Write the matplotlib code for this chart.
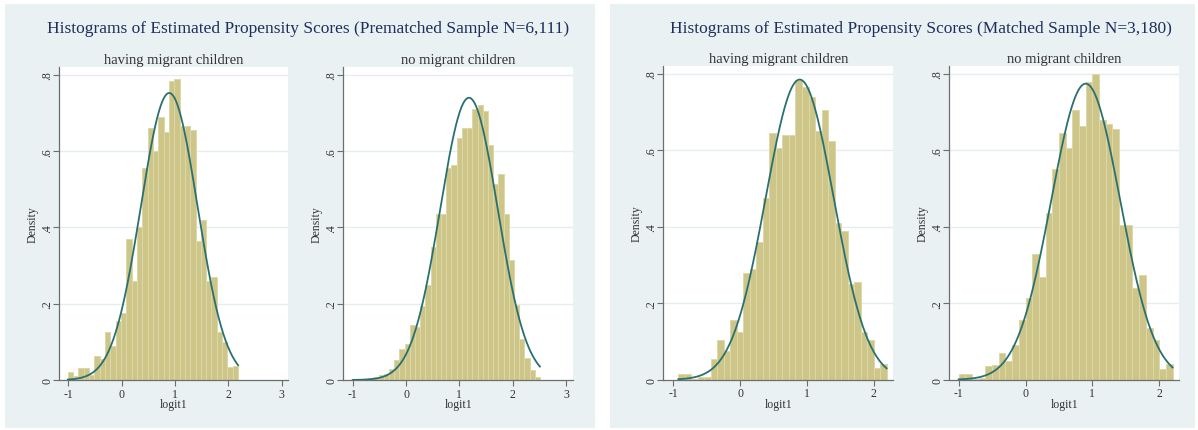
import numpy as np
import matplotlib
matplotlib.use("Agg")
import matplotlib.pyplot as plt
from matplotlib.patches import Rectangle

plt.rcParams['font.family'] = ['Liberation Serif', 'DejaVu Serif']

# ---------------- data ----------------
panel_titles = ["Histograms of Estimated Propensity Scores (Prematched Sample N=6,111)",
                "Histograms of Estimated Propensity Scores (Matched Sample N=3,180)"]
group_titles = ["having migrant children", "no migrant children"]

# histogram bin range (start, end) and densities per subplot
pre_mig_range = (-1.01, 2.18)
pre_mig_density = [0.02, 0.01, 0.032, 0.032, 0.012, 0.063, 0.055, 0.126, 0.09, 0.155,
                   0.175, 0.37, 0.26, 0.40, 0.555, 0.66, 0.60, 0.69, 0.65, 0.785,
                   0.79, 0.665, 0.665, 0.655, 0.365, 0.42, 0.26, 0.27, 0.125, 0.10,
                   0.033, 0.037]
pre_non_range = (-1.0, 2.51)
pre_non_density = [0.003, 0.003, 0.003, 0.004, 0.008, 0.013, 0.017, 0.028, 0.053, 0.08,
                   0.095, 0.145, 0.14, 0.195, 0.25, 0.35, 0.435, 0.435, 0.555, 0.565,
                   0.635, 0.66, 0.66, 0.71, 0.72, 0.705, 0.615, 0.515, 0.54, 0.435,
                   0.315, 0.197, 0.108, 0.057, 0.026, 0.007]
mat_mig_range = (-0.925, 2.19)
mat_mig_density = [0.015, 0.015, 0.003, 0.008, 0.008, 0.055, 0.105, 0.075, 0.155, 0.125,
                   0.28, 0.29, 0.36, 0.475, 0.645, 0.605, 0.64, 0.64, 0.785, 0.765,
                   0.74, 0.65, 0.705, 0.625, 0.41, 0.39, 0.25, 0.255, 0.125, 0.105,
                   0.03, 0.04]
mat_non_range = (-1.0, 2.2)
mat_non_density = [0.015, 0.015, 0.003, 0.005, 0.035, 0.038, 0.07, 0.05, 0.09, 0.155,
                   0.215, 0.33, 0.27, 0.435, 0.55, 0.645, 0.605, 0.705, 0.665, 0.78,
                   0.80, 0.68, 0.67, 0.655, 0.405, 0.405, 0.24, 0.275, 0.135, 0.105,
                   0.028, 0.04]

# normal density overlay: mean, sd
normal_mean = [0.89, 1.18, 0.89, 0.90]
normal_sd = [0.53, 0.539, 0.508, 0.515]

y_ticks = [0, 0.2, 0.4, 0.6, 0.8]
y_ticklabels = ["0", ".2", ".4", ".6", ".8"]
x_ticks_pre = [-1, 0, 1, 2, 3]
x_ticks_mat = [-1, 0, 1, 2]

# ---------------- styling / layout ----------------
W, H = 1198, 431
fig = plt.figure(figsize=(W / 100, H / 100), dpi=100)
fig.patch.set_facecolor("white")

BG = "#E9F1F3"
BAR = "#CDC688"
BAR_EDGE = "#DCD8A8"
CURVE = "#2B7070"
TITLE_C = "#1E2F5C"
TEXT_C = "#333333"
AXIS_C = "#6E6E6E"

def px_rect(l, t, r, b):
    return [l / W, 1 - b / H, (r - l) / W, (b - t) / H]

# panel backgrounds
for (l, t, r, b) in [(5, 5, 595, 429), (610, 5, 1195, 429)]:
    fig.patches.append(Rectangle((l / W, 1 - b / H), (r - l) / W, (b - t) / H,
                                 transform=fig.transFigure, facecolor=BG,
                                 edgecolor="none", zorder=-10))

subplots = [
    dict(box=(59.3, 68.3, 287.7, 381), xlim=(-1.17, 3.11), rng=pre_mig_range,
         dens=pre_mig_density, xt=x_ticks_pre, title=group_titles[0], k=0),
    dict(box=(343.3, 68.3, 573.3, 381), xlim=(-1.176, 3.136), rng=pre_non_range,
         dens=pre_non_density, xt=x_ticks_pre, title=group_titles[1], k=1),
    dict(box=(663.3, 67.3, 893.3, 380.7), xlim=(-1.15, 2.29), rng=mat_mig_range,
         dens=mat_mig_density, xt=x_ticks_mat, title=group_titles[0], k=2),
    dict(box=(949.3, 67.3, 1179.3, 380.7), xlim=(-1.14, 2.30), rng=mat_non_range,
         dens=mat_non_density, xt=x_ticks_mat, title=group_titles[1], k=3),
]

for sp in subplots:
    ax = fig.add_axes(px_rect(*sp["box"]))
    ax.set_facecolor("white")
    dens = np.array(sp["dens"])
    edges = np.linspace(sp["rng"][0], sp["rng"][1], len(dens) + 1)
    w = edges[1] - edges[0]
    for g in y_ticks[1:]:
        ax.axhline(g, color="#E4EDF0", lw=1.0, zorder=0.5)
    ax.bar(edges[:-1], dens, width=w, align="edge", color=BAR,
           edgecolor=BAR_EDGE, linewidth=0.7, zorder=2)
    k = sp["k"]
    xs = np.linspace(sp["rng"][0], sp["rng"][1], 300)
    ys = np.exp(-0.5 * ((xs - normal_mean[k]) / normal_sd[k]) ** 2) / (normal_sd[k] * np.sqrt(2 * np.pi))
    ax.plot(xs, ys, color=CURVE, lw=1.3, zorder=3)
    ax.set_xlim(*sp["xlim"])
    ax.set_ylim(0, 0.82)
    for s in ["top", "right"]:
        ax.spines[s].set_visible(False)
    for s in ["left", "bottom"]:
        ax.spines[s].set_color(AXIS_C)
        ax.spines[s].set_linewidth(0.9)
    ax.set_yticks(y_ticks)
    ax.set_yticklabels(y_ticklabels, rotation=90, va="center")
    ax.set_xticks(sp["xt"])
    ax.set_xticklabels([str(v) for v in sp["xt"]])
    ax.tick_params(axis="both", colors=AXIS_C, labelcolor=TEXT_C, length=4,
                   width=0.8, labelsize=8.5)
    ax.tick_params(axis="y", pad=0)
    ax.tick_params(axis="x", pad=1.5)
    ax.set_ylabel("Density", fontsize=8.5, color=TEXT_C, labelpad=2)
    ax.set_xlabel("logit1", fontsize=8.5, color=TEXT_C, labelpad=-1)
    ax.set_title(sp["title"], fontsize=10.5, color=TEXT_C, pad=3)

fig.text(308 / W, 1 - 29 / H, panel_titles[0], ha="center", va="center",
         fontsize=12.5, color=TITLE_C)
fig.text(921 / W, 1 - 29 / H, panel_titles[1], ha="center", va="center",
         fontsize=12.5, color=TITLE_C)

fig.savefig("out.png", dpi=100, facecolor="white")
